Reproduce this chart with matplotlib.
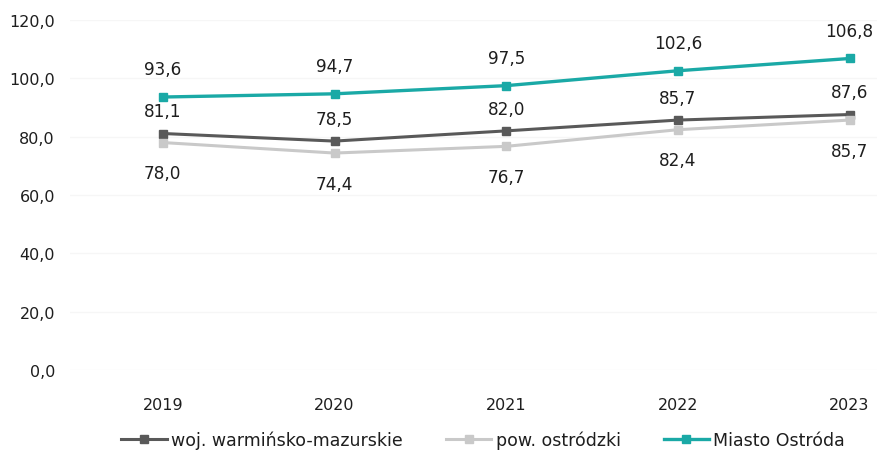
import matplotlib
matplotlib.use("Agg")
import numpy as np
from matplotlib import pyplot as plt

# data
years = ["2019", "2020", "2021", "2022", "2023"]
woj = [81.1, 78.5, 82.0, 85.7, 87.6]
pow_ostr = [78.0, 74.4, 76.7, 82.4, 85.7]
miasto = [93.6, 94.7, 97.5, 102.6, 106.8]
yticks = [0, 20, 40, 60, 80, 100, 120]

plt.rcParams['font.family'] = ['DejaVu Sans']

fig = plt.figure(figsize=(8.77, 4.56), dpi=100)
ax = fig.add_axes([0.08, 0.186, 0.92, 0.768])

x = np.arange(len(years))
c_woj = "#595959"
c_pow = "#c9c9c9"
c_mia = "#1aa9a6"
fs = 11.5

ax.plot(x, woj, color=c_woj, lw=2.2, marker="s", ms=5.5, label="woj. warmińsko-mazurskie")
ax.plot(x, pow_ostr, color=c_pow, lw=2.2, marker="s", ms=5.5, label="pow. ostródzki")
ax.plot(x, miasto, color=c_mia, lw=2.4, marker="s", ms=5.5, label="Miasto Ostróda")

def fmt(v):
    return ("%.1f" % v).replace(".", ",")

# data labels
for xi, v in zip(x, miasto):
    ax.annotate(fmt(v), (xi, v), xytext=(0, 20), textcoords="offset points",
                ha="center", va="center", fontsize=12.2, color="#1e1e1e")
for xi, v in zip(x, woj):
    ax.annotate(fmt(v), (xi, v), xytext=(0, 16), textcoords="offset points",
                ha="center", va="center", fontsize=12.2, color="#1e1e1e")
for xi, v in zip(x, pow_ostr):
    ax.annotate(fmt(v), (xi, v), xytext=(0, -22), textcoords="offset points",
                ha="center", va="center", fontsize=12.2, color="#1e1e1e")

ax.set_ylim(0, 120)
ax.set_xlim(-0.54, 4.16)
ax.set_yticks(yticks)
ax.set_yticklabels([fmt(t) for t in yticks], fontsize=fs, color="#1e1e1e")
ax.set_xticks(x)
ax.set_xticklabels(years, fontsize=fs, color="#1e1e1e")
ax.tick_params(length=0)
ax.tick_params(axis="x", pad=19)
ax.tick_params(axis="y", pad=11)
ax.yaxis.grid(True, color="#f6f6f6", lw=1)
ax.set_axisbelow(True)
for s in ax.spines.values():
    s.set_visible(False)

ax.legend(loc="center", bbox_to_anchor=(0.512, -0.2), ncol=3, frameon=False,
          fontsize=12.5, handlelength=2.6, columnspacing=2.5, handletextpad=0.25,
          labelcolor="#1e1e1e")

fig.savefig("out.png", dpi=100)
